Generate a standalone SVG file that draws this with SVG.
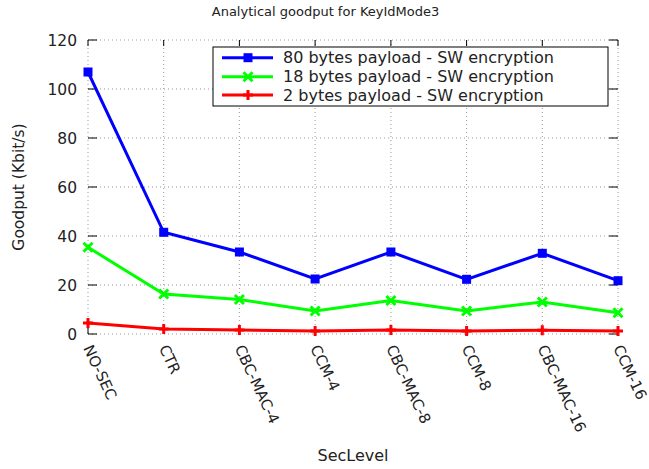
<svg xmlns="http://www.w3.org/2000/svg" width="649" height="469" viewBox="0 0 649 469">
<style>
text{font-family:"DejaVu Sans",sans-serif;fill:#222}
.grid{stroke:#999;stroke-width:1;stroke-dasharray:1,3;fill:none}
.tick{stroke:#000;stroke-width:1}
.ylab{font-size:15.5px;text-anchor:end}
.xlab{font-size:15px}
.leg{font-size:16px}
.blue{stroke:#0000ff;stroke-width:3;fill:none}
.green{stroke:#00ff00;stroke-width:3;fill:none}
.red{stroke:#ff0000;stroke-width:3;fill:none}
</style>
<defs>
<rect id="sq" x="-4.5" y="-4.5" width="9" height="9" fill="#0000ff"/>
<path id="cr" d="M-4.5-4.5L4.5 4.5M-4.5 4.5L4.5-4.5" stroke="#00ff00" stroke-width="3"/>
<path id="pl" d="M-5 0H5M0-5V5" stroke="#ff0000" stroke-width="3"/>
</defs>
<rect width="649" height="469" fill="#fff"/>
<text x="325.5" y="16" font-size="13" text-anchor="middle">Analytical goodput for KeyIdMode3</text>
<g id="grid">
<path class="grid" d="M88 40H618M88 89H618M88 138H618M88 187H618M88 236H618M88 285H618M88 334H618"/>
<path class="grid" d="M88 40V334M163.7 40V334M239.4 40V334M315.1 40V334M390.9 40V334M466.6 40V334M542.3 40V334M618 40V334"/>
</g>
<g id="ticks">
<path class="tick" d="M88 40h9M88 89h9M88 138h9M88 187h9M88 236h9M88 285h9M88 334h9M618 40h-9M618 89h-9M618 138h-9M618 187h-9M618 236h-9M618 285h-9M618 334h-9"/>
<path class="tick" d="M88 334v-6M163.7 334v-6M239.4 334v-6M315.1 334v-6M390.9 334v-6M466.6 334v-6M542.3 334v-6M618 334v-6M88 40v6M163.7 40v6M239.4 40v6M315.1 40v6M390.9 40v6M466.6 40v6M542.3 40v6M618 40v6"/>
</g>
<g id="yaxis">
<text class="ylab" x="77" y="45.5">120</text>
<text class="ylab" x="77" y="94.5">100</text>
<text class="ylab" x="77" y="143.5">80</text>
<text class="ylab" x="77" y="192.5">60</text>
<text class="ylab" x="77" y="241.5">40</text>
<text class="ylab" x="77" y="290.5">20</text>
<text class="ylab" x="77" y="339.5">0</text>
<text x="24" y="187" font-size="15.5" text-anchor="middle" transform="rotate(-90 24 187)">Goodput (Kbit/s)</text>
</g>
<g id="xaxis">
<text class="xlab" transform="translate(83 348) rotate(65)">NO-SEC</text>
<text class="xlab" transform="translate(158.7 348) rotate(65)">CTR</text>
<text class="xlab" transform="translate(234.4 348) rotate(65)">CBC-MAC-4</text>
<text class="xlab" transform="translate(310.1 348) rotate(65)">CCM-4</text>
<text class="xlab" transform="translate(385.9 348) rotate(65)">CBC-MAC-8</text>
<text class="xlab" transform="translate(461.6 348) rotate(65)">CCM-8</text>
<text class="xlab" transform="translate(537.3 348) rotate(65)">CBC-MAC-16</text>
<text class="xlab" transform="translate(613 348) rotate(65)">CCM-16</text>
<text x="353" y="461" font-size="16" text-anchor="middle">SecLevel</text>
</g>
<g id="series-80">
<polyline class="blue" points="88,72 163.7,232.3 239.4,252 315.1,279 390.9,252 466.6,279.3 542.3,253.3 618,280.7"/>
<use href="#sq" x="88" y="72"/><use href="#sq" x="163.7" y="232.3"/><use href="#sq" x="239.4" y="252"/><use href="#sq" x="315.1" y="279"/><use href="#sq" x="390.9" y="252"/><use href="#sq" x="466.6" y="279.3"/><use href="#sq" x="542.3" y="253.3"/><use href="#sq" x="618" y="280.7"/>
</g>
<g id="series-18">
<polyline class="green" points="88,247.3 163.7,294 239.4,299.5 315.1,311 390.9,300.5 466.6,311 542.3,302 618,312.7"/>
<use href="#cr" x="88" y="247.3"/><use href="#cr" x="163.7" y="294"/><use href="#cr" x="239.4" y="299.5"/><use href="#cr" x="315.1" y="311"/><use href="#cr" x="390.9" y="300.5"/><use href="#cr" x="466.6" y="311"/><use href="#cr" x="542.3" y="302"/><use href="#cr" x="618" y="312.7"/>
</g>
<g id="series-2">
<polyline class="red" points="88,323 163.7,329 239.4,330 315.1,331 390.9,330 466.6,331 542.3,330.3 618,331"/>
<use href="#pl" x="88" y="323"/><use href="#pl" x="163.7" y="329"/><use href="#pl" x="239.4" y="330"/><use href="#pl" x="315.1" y="331"/><use href="#pl" x="390.9" y="330"/><use href="#pl" x="466.6" y="331"/><use href="#pl" x="542.3" y="330.3"/><use href="#pl" x="618" y="331"/>
</g>
<g id="legend">
<rect x="213" y="47" width="395" height="59" fill="#fff" stroke="#000" stroke-width="1"/>
<path class="blue" d="M222 57.7H273"/><use href="#sq" x="248" y="57.7"/>
<path class="green" d="M222 76.7H273"/><use href="#cr" x="248" y="76.7"/>
<path class="red" d="M222 95H273"/><use href="#pl" x="248" y="95"/>
<text class="leg" x="283" y="63">80 bytes payload - SW encryption</text>
<text class="leg" x="283" y="82">18 bytes payload - SW encryption</text>
<text class="leg" x="283" y="100.7">2 bytes payload - SW encryption</text>
</g>
</svg>
